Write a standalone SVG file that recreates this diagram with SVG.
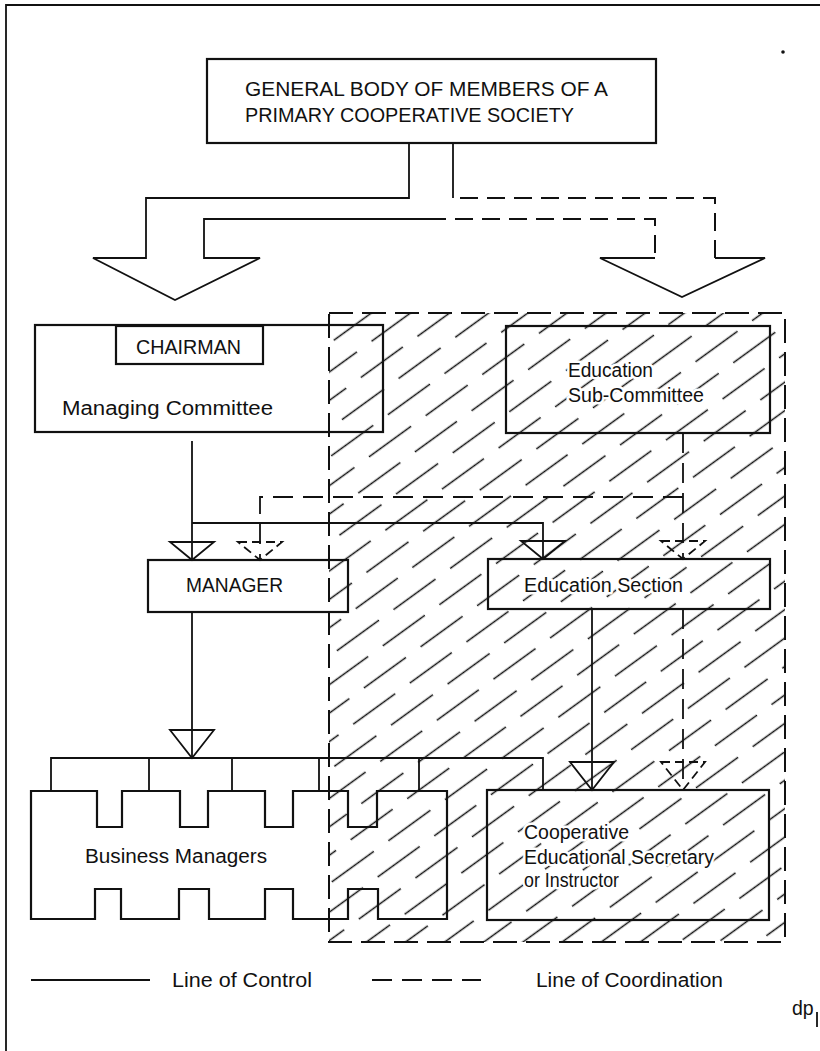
<svg xmlns="http://www.w3.org/2000/svg" width="820" height="1051" viewBox="0 0 820 1051">
<style>
  .box{fill:none;stroke:#111;stroke-width:2.2}
  .ln{fill:none;stroke:#111;stroke-width:1.8}
  .dash{fill:none;stroke:#111;stroke-width:1.8;stroke-dasharray:20 10}
  .bigdash{fill:none;stroke:#111;stroke-width:2;stroke-dasharray:18 9}
  .head{fill:none;stroke:#111;stroke-width:1.8;stroke-linejoin:miter}
  .dhead{fill:none;stroke:#111;stroke-width:1.8;stroke-dasharray:9 5}
  text{font-family:"Liberation Sans",Arial,sans-serif;font-size:19.5px;fill:#111}
  .caps{font-size:20.5px}
  .halo{paint-order:stroke;stroke:#fff;stroke-width:5;stroke-linejoin:round}
</style>
<defs>
  <!-- broken diagonal hatching for the education zone -->
  <pattern id="hatch" patternUnits="userSpaceOnUse" width="140" height="46" patternTransform="rotate(-36)">
    <path d="M0 11.5H52M70 11.5H122M30 34.5H82M100 34.5H140M0 34.5H12" stroke="#111" stroke-width="1.5" fill="none"/>
  </pattern>
  <!-- open triangular arrowheads, tip at the origin -->
  <path id="head-s" d="M-22 -18H22L0 0Z"/>
  <path id="head-t" d="M-22 -28H22L0 0Z"/>
</defs>

<rect width="820" height="1051" fill="#fff"/>

<g id="frame">
  <path class="ln" d="M6 1051V5H820"/>
  <path class="ln" d="M817 1012V1027"/>
  <circle cx="783" cy="52" r="1.8" fill="#111"/>
</g>

<g id="education-zone">
  <rect x="329" y="313" width="456" height="629" fill="url(#hatch)"/>
  <rect x="329" y="313" width="456" height="629" fill="none" stroke="#111" stroke-width="2" stroke-dasharray="24 9"/>
</g>

<g id="general-body">
  <rect class="box" x="207" y="59" width="449" height="84"/>
  <text class="caps" x="245" y="96" textLength="363" lengthAdjust="spacingAndGlyphs">GENERAL BODY OF MEMBERS OF A</text>
  <text class="caps" x="245" y="122" textLength="329" lengthAdjust="spacingAndGlyphs">PRIMARY COOPERATIVE SOCIETY</text>
</g>

<g id="managing-committee">
  <rect class="box" x="35" y="325" width="348" height="107"/>
  <rect class="box" x="116" y="326" width="147" height="38"/>
  <text x="136" y="354" textLength="105" lengthAdjust="spacingAndGlyphs">CHAIRMAN</text>
  <text x="62" y="415" textLength="211" lengthAdjust="spacingAndGlyphs">Managing Committee</text>
</g>

<g id="education-sub-committee">
  <rect class="box" x="506" y="326" width="264" height="107"/>
  <text class="halo" x="568" y="377" textLength="85" lengthAdjust="spacingAndGlyphs">Education</text>
  <text class="halo" x="568" y="402" textLength="136" lengthAdjust="spacingAndGlyphs">Sub-Committee</text>
</g>

<g id="manager">
  <rect class="box" x="148" y="560" width="200" height="52"/>
  <text x="186" y="592" textLength="97" lengthAdjust="spacingAndGlyphs">MANAGER</text>
</g>

<g id="education-section">
  <rect class="box" x="488" y="559" width="282" height="50"/>
  <text class="halo" x="524" y="592" textLength="159" lengthAdjust="spacingAndGlyphs">Education Section</text>
</g>

<g id="business-managers">
  <path class="box" d="M31 791H97V827H122V791H180V827H208V791H265V827H293V791H348V827H377V791H447V919H378V889H348V919H293V889H265V919H209V889H179V919H121V889H95V919H31Z"/>
  <text x="85" y="863" textLength="182" lengthAdjust="spacingAndGlyphs">Business Managers</text>
</g>

<g id="coop-secretary">
  <rect class="box" x="487" y="790" width="282" height="130"/>
  <text class="halo" x="524" y="839" textLength="105" lengthAdjust="spacingAndGlyphs">Cooperative</text>
  <text class="halo" x="524" y="864" textLength="190" lengthAdjust="spacingAndGlyphs">Educational Secretary</text>
  <text class="halo" x="524" y="887" textLength="95" lengthAdjust="spacingAndGlyphs">or Instructor</text>
</g>

<g id="connectors">
  <!-- broad arrow to the managing committee (control) -->
  <path class="ln" stroke-width="2" d="M409 143V198H146V258H93L175 300L260 258H204V219H428"/>
  <!-- broad arrow to the education sub-committee (coordination) -->
  <path class="bigdash" d="M428 219H655V258"/>
  <path class="ln" stroke-width="2" d="M655 258H600L682 297L765 258H715"/>
  <path class="bigdash" d="M715 258V198H453"/>
  <path class="ln" stroke-width="2" d="M453 198V143"/>

  <!-- managing committee to manager and education section -->
  <path class="ln" d="M192 441V560"/>
  <path class="ln" d="M192 523H543V559"/>
  <use href="#head-s" class="head" x="192" y="560"/>
  <use href="#head-s" class="head" x="543" y="559"/>

  <!-- sub-committee coordination -->
  <path class="dash" d="M683 433V559"/>
  <path class="dash" d="M683 497H260V560"/>
  <use href="#head-s" class="dhead" x="260" y="560"/>
  <use href="#head-s" class="dhead" x="683" y="559"/>

  <!-- manager to business managers -->
  <path class="ln" d="M192 612V758"/>
  <use href="#head-t" class="head" x="192" y="758"/>
  <path class="ln" d="M51 791V758H543V790M149 758V791M232 758V791M319 758V791M419 758V791"/>

  <!-- education section to educational secretary -->
  <path class="ln" d="M592 609V790"/>
  <use href="#head-t" class="head" x="592" y="790"/>
  <path class="dash" d="M683 609V790"/>
  <use href="#head-t" class="dhead" x="683" y="790"/>
</g>

<g id="legend">
  <path class="ln" d="M31 980H150"/>
  <text x="172" y="987" textLength="140" lengthAdjust="spacingAndGlyphs">Line of Control</text>
  <path class="dash" d="M372 980H481"/>
  <text x="536" y="987" textLength="187" lengthAdjust="spacingAndGlyphs">Line of Coordination</text>
  <text x="792" y="1015">dp</text>
</g>
</svg>
